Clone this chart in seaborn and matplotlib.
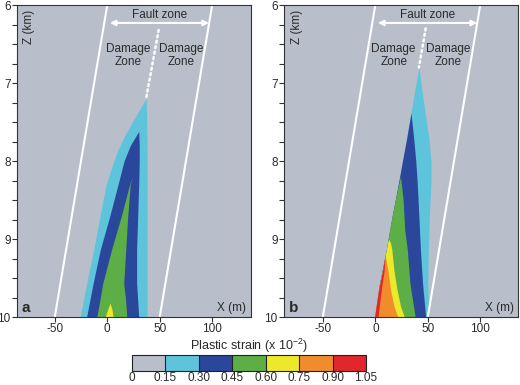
import numpy as np
import matplotlib
matplotlib.use("Agg")
import matplotlib.pyplot as plt
import matplotlib as mpl
from matplotlib.colors import ListedColormap, BoundaryNorm
from matplotlib.ticker import MultipleLocator
import seaborn as sns

# plastic strain classes (x 10^-2) and their colours
levels = [0, 0.15, 0.30, 0.45, 0.60, 0.75, 0.90, 1.05]
level_colors = ["#b8bfca", "#5ec4db", "#2b479b", "#5dae47", "#ede829", "#f08c2b", "#e1262e"]

# damage zone walls (x in m at the z values in wall_z)
wall_z = [10, 6]
wall_left = [-50, 0]
wall_right = [50, 100]

# contour outlines, rows of (z km, left x m, right x m)
a_cyan = [[7.2, 37, 37], [7.43, 27, 37.5], [7.64, 18, 37.7], [7.86, 10, 38],
          [7.99, 6.5, 38], [8.29, -0.8, 38], [8.71, -7, 38], [9.14, -13, 38],
          [9.57, -19.6, 38], [10, -25.8, 38]]
a_blue = [[7.62, 30, 30], [7.8, 22, 30.5], [8.0, 16, 30.5], [8.29, 10.5, 30],
          [8.71, 2.3, 29], [9.14, -6.7, 28], [9.57, -13.5, 28], [10, -19.7, 30]]
a_green = [[8.2, 24, 24], [8.29, 21.5, 22], [8.71, 13.3, 19.5], [9.14, 4, 17.6],
           [9.57, -4.3, 15.7], [9.78, -7, 17.5], [10, -10, 18.6]]
a_yellow = [[9.82, 2.5, 2.5], [9.9, 0.5, 4.5], [10, -2, 5.5]]

b_cyan = [[6.8, 41.5, 41.5], [7.1, 37.5, 44.5], [7.38, 34, 47.5], [7.7, 30, 51],
          [7.99, 26, 53], [8.29, 22, 53], [8.71, 16, 51.5], [9.14, 10.5, 50.5],
          [9.57, 4, 50], [10, -0.7, 51]]
b_blue = [[7.38, 34, 34], [7.7, 30, 36.5], [7.99, 26, 38.5], [8.29, 22, 40],
          [8.71, 16, 41.5], [9.14, 10.5, 43], [9.57, 4, 45], [10, -0.7, 48]]
b_green = [[8.2, 24, 24], [8.5, 19, 26.5], [8.88, 13.6, 28], [9.14, 10.5, 30.5],
           [9.57, 4, 33], [10, -0.7, 38]]
b_yellow = [[9.0, 12.6, 12.6], [9.05, 11.8, 14.5], [9.14, 10.5, 15.8], [9.4, 7, 17.7],
            [9.65, 3.1, 20.7], [9.86, 0.8, 24], [10, -0.7, 27.7]]
b_orange = [[9.21, 9.2, 9.2], [9.4, 7, 12], [9.65, 3.1, 14.5], [9.86, 0.8, 17.7],
            [10, -0.7, 21.5]]
b_red = [[9.21, 9.2, 9.2], [9.4, 7, 8.5], [9.65, 3.1, 5.7], [9.86, 0.8, 3.8],
         [10, -0.7, 2.5]]

# dotted fault trace above the strain tip, (x m, z km)
a_trace = [[49, 6.32], [37, 7.2]]
b_trace = [[48, 6.3], [41.5, 6.8]]

sns.set_style("ticks")
plt.rcParams["font.family"] = ["Liberation Sans", "DejaVu Sans"]
plt.rcParams["mathtext.default"] = "regular"
plt.rcParams["axes.unicode_minus"] = False

fig = plt.figure(figsize=(5.2, 3.85), dpi=100)
ax_a = fig.add_axes([0.0327, 0.1766, 0.45, 0.8104])
ax_b = fig.add_axes([0.5462, 0.1766, 0.45, 0.8104])
cax = fig.add_axes([0.2538, 0.0364, 0.45, 0.0416])

text_col = "#2a2a2a"
panels = [
    (ax_a, "a", [a_cyan, a_blue, a_green, a_yellow], a_trace, (-86, 137), (19.5, 70.5)),
    (ax_b, "b", [b_cyan, b_blue, b_green, b_yellow, b_orange, b_red], b_trace,
     (-87, 136), (17.5, 69)),
]

for ax, tag, outlines, trace, xlim, dz_x in panels:
    ax.set_facecolor(level_colors[0])
    for i, rows in enumerate(outlines):
        r = np.array(rows, dtype=float)
        ax.fill_betweenx(r[:, 0], r[:, 1], r[:, 2], color=level_colors[i + 1], lw=0)

    for wx in (wall_left, wall_right):
        sns.lineplot(x=wx, y=wall_z, orient="y", color="white", lw=1.5, ax=ax, legend=False)

    t = np.array(trace)
    ax.plot(t[:, 0], t[:, 1], color="white", lw=1.8, ls=(0, (0.8, 1.4)),
            dash_capstyle="round")

    ax.annotate("", xy=(97, 6.23), xytext=(2.5, 6.23),
                arrowprops=dict(arrowstyle="<|-|>", color="white", lw=1.5,
                                mutation_scale=8, shrinkA=0, shrinkB=0))
    ax.text(50, 6.13, "Fault zone", ha="center", va="center", fontsize=8.5, color=text_col)
    ax.text(dz_x[0], 6.65, "Damage\nZone", ha="center", va="center", fontsize=8.5,
            color=text_col, linespacing=1.1)
    ax.text(dz_x[1], 6.65, "Damage\nZone", ha="center", va="center", fontsize=8.5,
            color=text_col, linespacing=1.1)
    ax.text(-75, 6.28, "Z (km)", rotation=90, ha="center", va="center", fontsize=8.5,
            color=text_col)
    ax.text(-78, 9.885, tag, ha="center", va="center", fontsize=11, fontweight="bold",
            color=text_col)
    ax.text(118, 9.885, "X (m)", ha="center", va="center", fontsize=8.5, color=text_col)

    ax.set_xlim(*xlim)
    ax.set_ylim(10, 6)
    ax.set_xticks([-50, 0, 50, 100])
    ax.set_yticks([6, 7, 8, 9, 10])
    ax.yaxis.set_minor_locator(MultipleLocator(0.25))
    ax.tick_params(which="both", direction="out", length=3.5, width=0.8,
                   color="#333333", labelsize=8.5, labelcolor=text_col, pad=1)
    for s in ax.spines.values():
        s.set_color("#333333")
        s.set_linewidth(0.8)

cmap = ListedColormap(level_colors)
norm = BoundaryNorm(levels, cmap.N)
cb = fig.colorbar(mpl.cm.ScalarMappable(norm=norm, cmap=cmap), cax=cax,
                  orientation="horizontal", ticks=levels, drawedges=True)
cb.outline.set_edgecolor("#222222")
cb.outline.set_linewidth(0.8)
cb.dividers.set_color("#222222")
cb.dividers.set_linewidth(0.8)
cb.ax.set_xticklabels(["0", "0.15", "0.30", "0.45", "0.60", "0.75", "0.90", "1.05"])
cb.ax.tick_params(length=0, labelsize=8.5, labelcolor=text_col, pad=1)
cax.set_title("Plastic strain (x 10$^{-2}$)", fontsize=9, color=text_col, pad=3)

fig.savefig("out.png", dpi=100)
